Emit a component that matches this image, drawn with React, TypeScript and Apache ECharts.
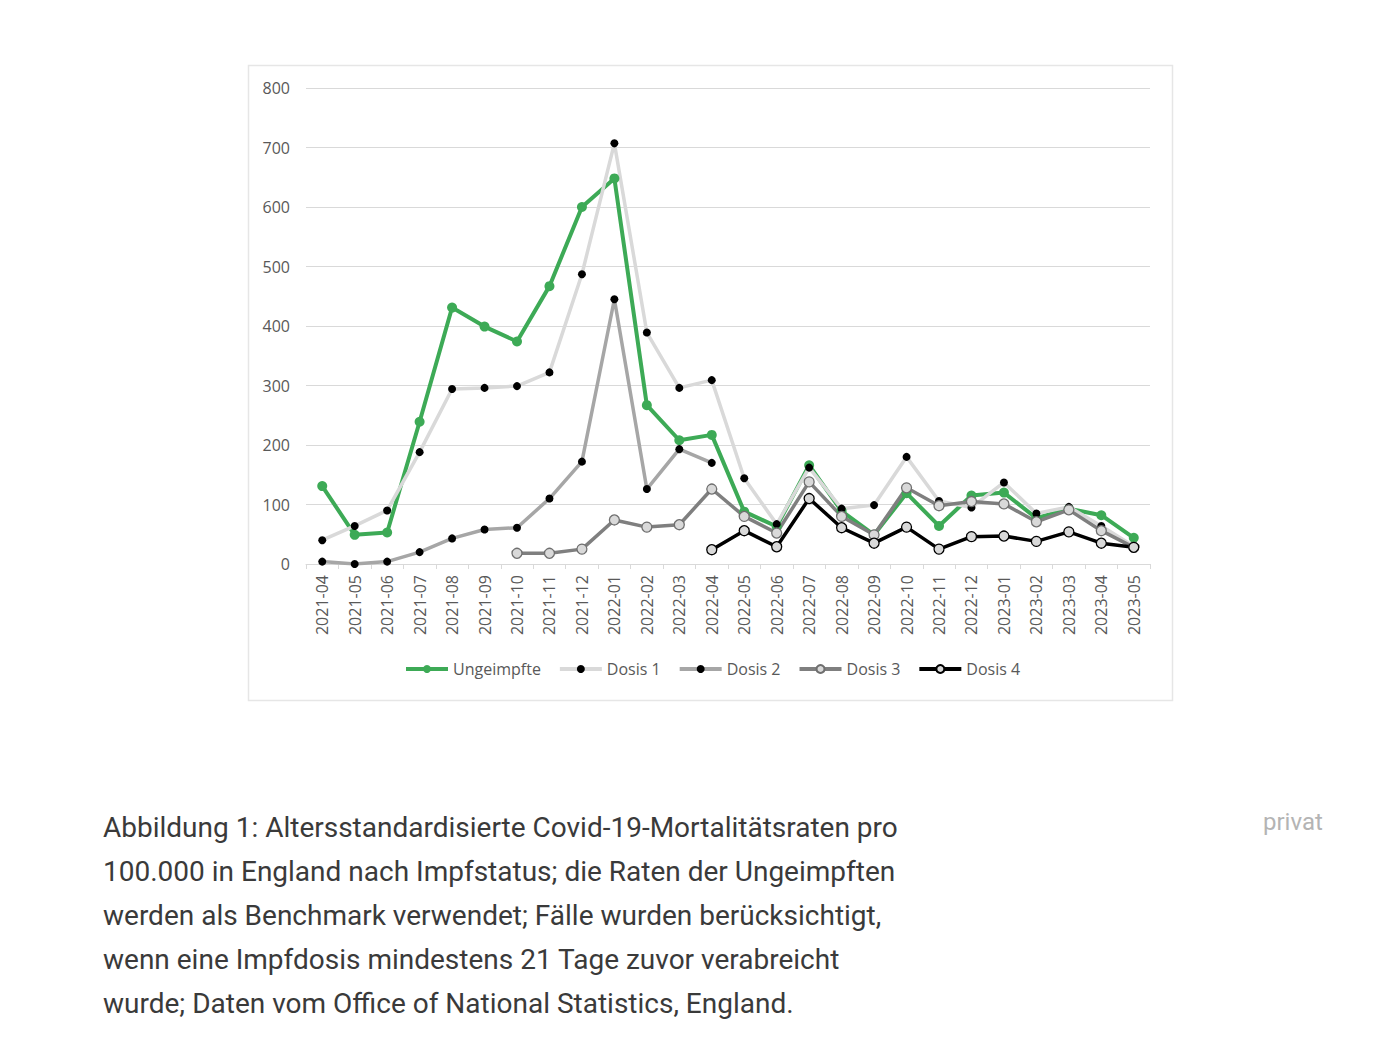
import React, { useEffect, useRef } from "react";
import * as echarts from "echarts";

const categories = [
  "2021-04", "2021-05", "2021-06", "2021-07", "2021-08", "2021-09", "2021-10", "2021-11", "2021-12",
  "2022-01", "2022-02", "2022-03", "2022-04", "2022-05", "2022-06", "2022-07", "2022-08", "2022-09",
  "2022-10", "2022-11", "2022-12", "2023-01", "2023-02", "2023-03", "2023-04", "2023-05",
];

const ungeimpfte = [131, 49, 53, 239, 431, 399, 374, 467, 600, 648, 267, 208, 217, 88, 63, 166, 89, 49, 119, 64, 115, 120, 77, 93, 82, 44];
const dosis1 = [40, 64, 90, 188, 294, 296, 299, 322, 487, 707, 389, 296, 309, 144, 67, 162, 93, 99, 180, 106, 95, 137, 85, 96, 64, 30];
const dosis2 = [4, 0, 4, 20, 43, 58, 61, 110, 172, 445, 126, 193, 170, null, null, null, null, null, null, null, null, null, null, null, null, null];
const dosis3 = [null, null, null, null, null, null, 18, 18, 25, 74, 62, 66, 126, 80, 52, 138, 80, 49, 128, 98, 105, 101, 71, 91, 56, 28];
const dosis4 = [null, null, null, null, null, null, null, null, null, null, null, null, 24, 56, 29, 110, 61, 35, 62, 25, 46, 47, 38, 54, 35, 28];

const yTicks = { min: 0, max: 800, interval: 100 };

const captionLines = [
  "Abbildung 1: Altersstandardisierte Covid-19-Mortalitätsraten pro",
  "100.000 in England nach Impfstatus; die Raten der Ungeimpften",
  "werden als Benchmark verwendet; Fälle wurden berücksichtigt,",
  "wenn eine Impfdosis mindestens 21 Tage zuvor verabreicht",
  "wurde; Daten vom Office of National Statistics, England.",
];
const creditText = "privat";

export default function App() {
  const ref = useRef<HTMLDivElement>(null);
  useEffect(() => {
    if (!ref.current) return;
    const chart = echarts.init(ref.current, undefined, { renderer: "svg" });
    const font = "'Open Sans', sans-serif";
    const labelColor = "#595959";
    const option: any = {
      animation: false,
      backgroundColor: "#ffffff",
      textStyle: { fontFamily: font },
      grid: { left: 306, right: 234, top: 88, bottom: 496, containLabel: false },
      legend: {
        left: 399,
        top: 656,
        itemWidth: 42,
        itemHeight: 10,
        itemGap: 17,
        lineStyle: { width: 4 },
        textStyle: { fontSize: 16, color: labelColor, fontFamily: font },
        data: ["Ungeimpfte", "Dosis 1", "Dosis 2", "Dosis 3", "Dosis 4"],
      },
      xAxis: {
        type: "category",
        data: categories,
        boundaryGap: true,
        axisLine: { show: true, lineStyle: { color: "#d9d9d9", width: 1 } },
        axisTick: { show: true, length: 5, lineStyle: { color: "#d9d9d9" } },
        axisLabel: { rotate: 90, interval: 0, margin: 11, fontSize: 16, color: labelColor, fontFamily: font },
        splitLine: { show: false },
      },
      yAxis: {
        type: "value",
        min: yTicks.min,
        max: yTicks.max,
        interval: yTicks.interval,
        axisLine: { show: false },
        axisTick: { show: false },
        axisLabel: { margin: 16, fontSize: 16, color: labelColor, fontFamily: font },
        splitLine: { show: true, lineStyle: { color: "#d9d9d9", width: 1 } },
      },
      series: [
        {
          name: "Ungeimpfte",
          type: "line",
          data: ungeimpfte,
          symbol: "circle",
          symbolSize: 10,
          lineStyle: { color: "#3daa56", width: 4 },
          itemStyle: { color: "#3daa56", borderWidth: 0 },
        },
        {
          name: "Dosis 1",
          type: "line",
          data: dosis1,
          symbol: "circle",
          symbolSize: 8,
          lineStyle: { color: "#d9d9d9", width: 3.5 },
          itemStyle: { color: "#000000", borderWidth: 0 },
        },
        {
          name: "Dosis 2",
          type: "line",
          data: dosis2,
          symbol: "circle",
          symbolSize: 8,
          lineStyle: { color: "#a6a6a6", width: 3.5 },
          itemStyle: { color: "#000000", borderWidth: 0 },
        },
        {
          name: "Dosis 3",
          type: "line",
          data: dosis3,
          symbol: "circle",
          symbolSize: 10,
          lineStyle: { color: "#7f7f7f", width: 3.5 },
          itemStyle: { color: "#d9d9d9", borderColor: "#6f6f6f", borderWidth: 1.3 },
        },
        {
          name: "Dosis 4",
          type: "line",
          data: dosis4,
          symbol: "circle",
          symbolSize: 10,
          lineStyle: { color: "#000000", width: 3.5 },
          itemStyle: { color: "#d9d9d9", borderColor: "#000000", borderWidth: 1.3 },
        },
      ],
      graphic: [
        {
          type: "rect",
          z: -10,
          silent: true,
          shape: { x: 248.5, y: 65.5, width: 924, height: 635 },
          style: { fill: "none", stroke: "#e6e6e6", lineWidth: 1.5 },
        },
        ...captionLines.map((t, i) => ({
          type: "text",
          left: 103,
          top: 813 + i * 44,
          style: {
            text: t,
            fontSize: 28,
            fontFamily: "Roboto, sans-serif",
            fill: "#3a3a3a",
          },
        })),
        {
          type: "text",
          left: 1263,
          top: 810,
          style: { text: creditText, fontSize: 24, fontFamily: "Roboto, sans-serif", fill: "#b4b4b4" },
        },
      ],
    };
    chart.setOption(option);
    return () => chart.dispose();
  }, []);
  return <div ref={ref} style={{ position: "absolute", left: 0, top: 0, width: 1384, height: 1060 }} />;
}
